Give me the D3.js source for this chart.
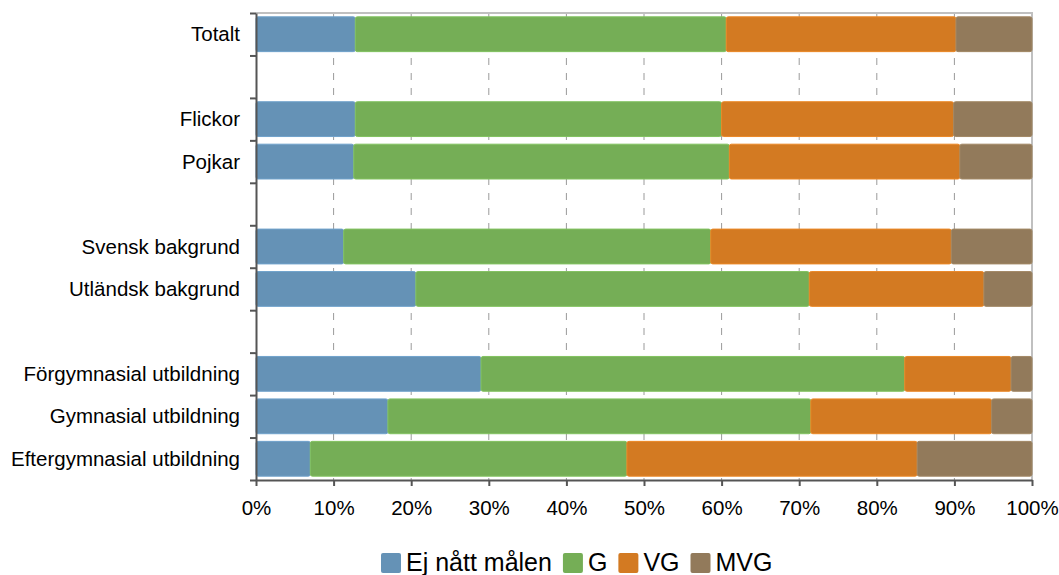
<!DOCTYPE html>
<html>
<head>
<meta charset="utf-8">
<script src="https://cdnjs.cloudflare.com/ajax/libs/d3/7.8.5/d3.min.js"></script>
<style>
  body { margin: 0; background: #fff; }
  svg { font-family: "Liberation Sans", Arial, sans-serif; }
</style>
</head>
<body>
<svg id="chart" width="1059" height="575"></svg>
<script>
// rader, tomma strängar = mellanrum
let categories = ["Totalt", "", "Flickor", "Pojkar", "", "Svensk bakgrund", "Utländsk bakgrund", "",
                  "Förgymnasial utbildning", "Gymnasial utbildning", "Eftergymnasial utbildning"]
let seriesNames = ["Ej nått målen", "G", "VG", "MVG"]
let ejNatt = [12.8, null, 12.8, 12.6, null, 11.3, 20.6, null, 29.0, 17.0, 7.0]
let gVals  = [47.8, null, 47.2, 48.4, null, 47.3, 50.7, null, 54.6, 54.5, 40.8]
let vgVals = [29.6, null, 29.9, 29.7, null, 31.0, 22.5, null, 13.7, 23.3, 37.4]
let mvgVals = [9.8, null, 10.1, 9.3, null, 10.4, 6.2, null, 2.7, 5.2, 14.8]
let xTicks = [0, 10, 20, 30, 40, 50, 60, 70, 80, 90, 100]
let colors = ["#6592b6", "#75ae56", "#d37a22", "#927a5b"]

let svg = d3.select("#chart")
let plotLeft = 256, plotRight = 1032, plotTop = 13, plotBottom = 480

let xScale = d3.scaleLinear().domain([0, 100]).range([plotLeft, plotRight])
let yScale = d3.scaleBand().domain(d3.range(categories.length)).range([plotTop, plotBottom])
    .paddingInner(0.18).paddingOuter(0.09)
let yEdge = d3.scaleLinear().domain([0, categories.length]).range([plotTop, plotBottom])

// stödlinjer
svg.append("g")
    .selectAll("line")
    .data(xTicks.filter(d => d > 0 && d < 100))
    .enter()
    .append("line")
    .attr("x1", d => xScale(d)).attr("x2", d => xScale(d))
    .attr("y1", plotTop).attr("y2", plotBottom)
    .style("stroke", "#9a9a9a")
    .style("stroke-width", 1)
    .style("stroke-dasharray", "7,8")

// ram
svg.append("path")
    .attr("d", `M${plotLeft},${plotTop}H${plotRight}V${plotBottom}`)
    .style("fill", "none")
    .style("stroke", "#c0c0c0")
    .style("stroke-width", 2)

let allSeries = [ejNatt, gVals, vgVals, mvgVals]
let rows = categories.map((c, i) => {
    let start = 0
    return allSeries.map((s, k) => {
        let v = s[i]
        let seg = {row: i, k: k, x0: start, x1: start + (v || 0), v: v}
        start += (v || 0)
        return seg
    })
})
let segs = rows.flat().filter(d => d.v != null)

svg.append("g")
    .selectAll("rect")
    .data(segs)
    .enter()
    .append("rect")
    .attr("x", d => xScale(d.x0))
    .attr("width", d => xScale(Math.min(d.x1, 100)) - xScale(d.x0))
    .attr("y", d => yScale(d.row))
    .attr("height", yScale.bandwidth())
    .attr("rx", 2)
    .style("fill", d => colors[d.k])
    .style("stroke", d => d3.color(colors[d.k]).brighter(0.3))
    .style("stroke-width", 1)

// y-axel
let yAxis = d3.axisLeft(yEdge).tickValues(d3.range(categories.length + 1))
    .tickFormat("").tickSizeInner(6).tickSizeOuter(0)
let yAxisGroup = svg.append("g")
    .attr("transform", `translate(${plotLeft},0)`)
    .call(yAxis)
yAxisGroup.selectAll("path, line").style("stroke", "#555").style("stroke-width", 2)

svg.append("g")
    .selectAll("text")
    .data(categories)
    .enter()
    .append("text")
    .attr("x", 240)
    .attr("y", (d, i) => yScale(i) + yScale.bandwidth() / 2)
    .attr("dy", "0.35em")
    .attr("text-anchor", "end")
    .style("font-size", "20.5px")
    .style("fill", "#000")
    .text(d => d)

// x-axel
let xAxis = d3.axisBottom(xScale).tickValues(xTicks)
    .tickFormat(d => d + "%").tickSizeInner(6).tickSizeOuter(0).tickPadding(14)
let xAxisGroup = svg.append("g")
    .attr("transform", `translate(0,${plotBottom})`)
    .call(xAxis)
xAxisGroup.selectAll("path, line").style("stroke", "#555").style("stroke-width", 2)
xAxisGroup.selectAll("text")
    .style("font-size", "20.5px")
    .style("font-family", "'Liberation Sans', Arial, sans-serif")
    .style("fill", "#000")

// legend
let legend = svg.append("g").attr("transform", "translate(381,553)")
let lx = 0
seriesNames.forEach((name, k) => {
    legend.append("rect")
        .attr("x", lx).attr("y", 0)
        .attr("width", 20).attr("height", 20)
        .attr("rx", 2)
        .style("fill", colors[k])
    let t = legend.append("text")
        .attr("x", lx + 25).attr("y", 18)
        .style("font-size", "25px")
        .style("fill", "#000")
        .text(name)
    lx += 25 + t.node().getComputedTextLength() + 11
})
</script>
</body>
</html>
